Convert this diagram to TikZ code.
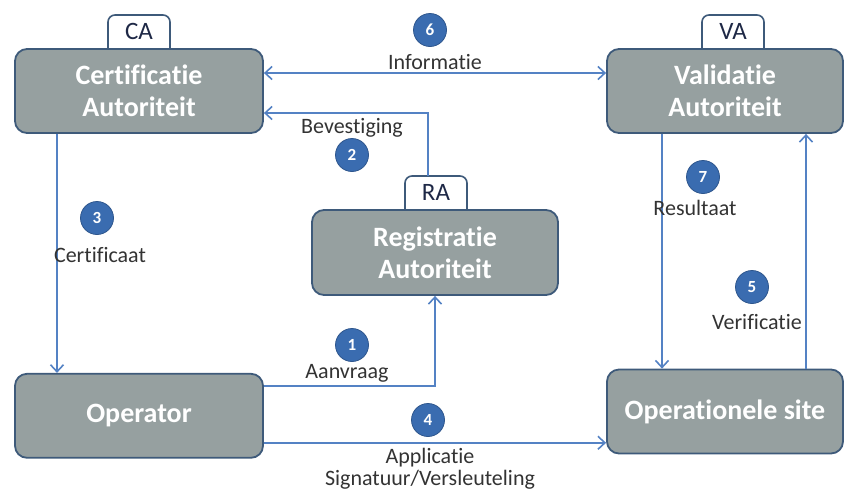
\documentclass[tikz,border=0pt]{standalone}
\usepackage{fontspec}
\setmainfont{Carlito}[Ligatures={NoCommon}]
\usetikzlibrary{arrows.meta, positioning, calc}

\definecolor{boxgray}{RGB}{150,160,160}
\definecolor{boxline}{RGB}{62,90,122}
\definecolor{flowblue}{RGB}{84,130,196}
\definecolor{dotblue}{RGB}{58,108,176}
\definecolor{tabtext}{RGB}{30,40,70}

\begin{document}
\begin{tikzpicture}[
  x=1pt, y=1pt,
  font=\fontsize{22}{22}\selectfont,
  >={Straight Barb[length=7pt, width=13pt, line width=1.6pt]},
  node distance=0pt,
  auth/.style={draw=boxline, line width=1.8pt, fill=boxgray, rounded corners=12pt,
    minimum width=248pt, minimum height=84pt, align=center, text=white,
    font=\fontsize{28}{32}\selectfont\bfseries},
  tab/.style={minimum width=62pt, minimum height=34pt, text=tabtext, inner sep=0pt,
    font=\fontsize{25}{25}\selectfont},
  tabline/.style={draw=boxline, line width=1.6pt, rounded corners=7pt, fill=white},
  flow/.style={draw=flowblue, line width=1.8pt},
  stepdot/.style={circle, fill=dotblue, draw=dotblue!80!black, line width=0.8pt,
    minimum size=33pt, inner sep=0pt, text=white, font=\fontsize{17}{17}\selectfont\bfseries},
  lbl/.style={inner sep=1pt, text=black!80},
]
  \useasboundingbox (0,0) rectangle (845,-491);

  % tabs (drawn first, the boxes cover their lower edge)
  \coordinate (CAtop) at (139,-49);
  \coordinate (VAtop) at (733,-49);
  \coordinate (RAtop) at (436,-210);
  \foreach \t in {CA,VA,RA}{
    \path[tabline] ([xshift=-31pt,yshift=-6pt]\t top) |- ([yshift=34pt]\t top)
      -| ([xshift=31pt,yshift=-6pt]\t top) -- cycle;
  }

  % main boxes
  \node[auth] (CA) at (139,-91) {Certificatie\\Autoriteit};
  \node[auth, minimum width=236pt] (VA) at (725,-91) {Validatie\\Autoriteit};
  \node[auth, minimum width=246pt, minimum height=85pt] (RA) at (435,-252.5) {Registratie\\Autoriteit};
  \node[auth, below=239pt of CA] (Op) {Operator};
  \node[auth, minimum width=236pt] (OS) at (725,-411.5) {Operationele site};

  % tab texts
  \node[tab, above=0pt of CAtop] (CAt) {CA};
  \node[tab, above=0pt of VAtop] (VAt) {VA};
  \node[tab, above=0pt of RAtop] (RAt) {RA};

  % connectors
  \draw[flow, <->] ([yshift=18pt]CA.east) -- ([yshift=18pt]VA.west);
  \draw[flow, ->] ([xshift=-8pt]RAt.north) |- ([yshift=-22pt]CA.east);
  \draw[flow, ->] ([xshift=-82pt]CA.south) -- ([xshift=-82pt]Op.north);
  \draw[flow, ->] ([yshift=30pt]Op.east) -| (RA.south);
  \draw[flow, ->] ([yshift=-27pt]Op.east) -- ([yshift=-27pt]Op.east -| OS.west);
  \draw[flow, ->] ([xshift=-63pt]VA.south) -- ([xshift=-63pt]VA.south |- OS.north);
  \draw[flow, ->] ([xshift=81pt]OS.north) -- ([xshift=81pt]OS.north |- VA.south);

  % step numbers and labels
  \node[stepdot] (s6) at (430,-30) {6};
  \node[lbl] (l6) at (435,-62) {Informatie};
  \node[stepdot] (s2) at (352,-155) {2};
  \node[lbl] (l2) at (352,-128) {Bevestiging};
  \node[stepdot] (s3) at (97,-218) {3};
  \node[lbl] (l3) at (100,-255) {Certificaat};
  \node[stepdot] (s1) at (352,-345) {1};
  \node[lbl] (l1) at (347,-373) {Aanvraag};
  \node[stepdot] (s4) at (428,-420) {4};
  \node[lbl, align=center] (l4) at (430,-469) {Applicatie\\Signatuur/Versleuteling};
  \node[stepdot] (s7) at (703,-177) {7};
  \node[lbl] (l7) at (695,-208) {Resultaat};
  \node[stepdot] (s5) at (752,-287) {5};
  \node[lbl] (l5) at (757,-322) {Verificatie};
\end{tikzpicture}
\end{document}
